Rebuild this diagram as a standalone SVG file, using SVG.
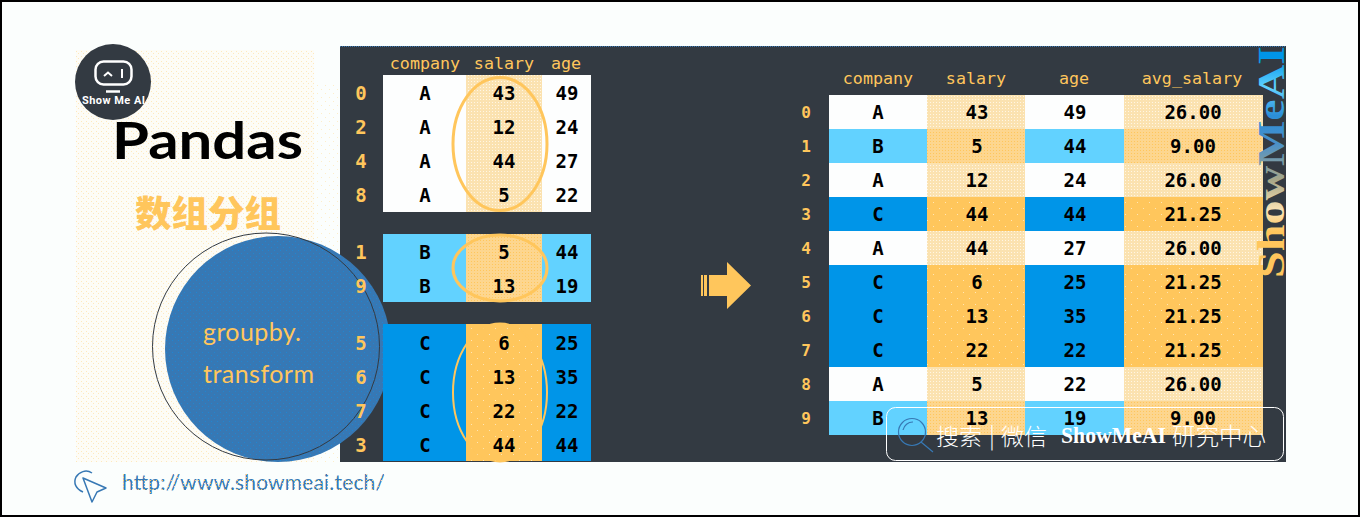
<svg xmlns="http://www.w3.org/2000/svg" width="1361" height="518" viewBox="0 0 1361 518">
<style>
text{font-family:"DejaVu Sans Mono","Liberation Mono",monospace}
.h{font-size:16.7px;fill:#ffc65c;text-anchor:middle}
.i{font-size:19px;fill:#ffc65c;text-anchor:middle;font-weight:700}
.j{font-size:16px;fill:#ffc65c;text-anchor:middle;font-weight:700}
.c{font-size:19px;fill:#000;text-anchor:middle;font-weight:700}
.ring{fill:none;stroke:#ffc65c}
.cjk{font-family:"Noto Sans CJK SC",sans-serif;fill:#fff}
.lato{font-family:Lato,"Open Sans",sans-serif}
.A{fill:#fdfefe}.B{fill:#62d2ff}.C{fill:#0095e8}
.SA{fill:url(#pa)}.SB{fill:url(#pb)}.SC{fill:url(#pc)}
</style>
<defs>
<pattern id="bg" width="5" height="5" patternUnits="userSpaceOnUse"><rect width="5" height="5" fill="#fdfcf6"/><rect x="1" y="1" width="1" height="1" fill="#fde9bd"/><rect x="3" y="3" width="1" height="1" fill="#fde9bd"/></pattern>
<pattern id="bg2" width="8" height="8" patternUnits="userSpaceOnUse"><rect x="1" y="1" width="1" height="1" fill="#fdeecb"/><rect x="5" y="5" width="1" height="1" fill="#fdeecb"/></pattern>
<pattern id="pa" width="3" height="3" patternUnits="userSpaceOnUse"><rect width="3" height="3" fill="#fbe2b0"/><rect width="1" height="1" fill="#fff6e4"/></pattern>
<pattern id="pb" width="3" height="3" patternUnits="userSpaceOnUse"><rect width="3" height="3" fill="#fdd68f"/><rect width="1" height="1" fill="#ffc65c"/></pattern>
<pattern id="pc" width="12" height="12" patternUnits="userSpaceOnUse"><rect width="12" height="12" fill="#ffc65c"/><rect x="3" y="4" width="1" height="1" fill="#ffe6b5"/><rect x="9" y="10" width="1" height="1" fill="#ffe6b5"/></pattern>
<pattern id="disc" width="6" height="6" patternUnits="userSpaceOnUse"><rect width="6" height="6" fill="#3778b4"/><rect x="1" y="1" width="1" height="1" fill="#1f86d2"/><rect x="4" y="4" width="1" height="1" fill="#1f86d2"/></pattern>
<pattern id="url" width="3" height="3" patternUnits="userSpaceOnUse"><rect width="3" height="3" fill="#3778b4"/><rect width="1" height="1" fill="#ffc65c"/></pattern>
<linearGradient id="wm" gradientUnits="userSpaceOnUse" x1="0" y1="0" x2="232" y2="0"><stop offset="0" stop-color="#ffc65c"/><stop offset=".2" stop-color="#ffc65c"/><stop offset=".29" stop-color="#fbe3b5"/><stop offset=".42" stop-color="#a9a888"/><stop offset=".58" stop-color="#4a90c8"/><stop offset=".7" stop-color="#2b8ed8"/><stop offset=".82" stop-color="#62d2ff"/><stop offset=".95" stop-color="#0095e8"/></linearGradient>
</defs>
<rect x="1" y="1" width="1358" height="515" fill="#fbfefd" stroke="#000" stroke-width="2"/>
<rect x="76" y="50" width="238" height="412" fill="url(#bg)"/>
<rect x="314" y="82" width="26" height="380" fill="url(#bg2)"/>
<g id="panel"><rect x="340" y="46" width="946" height="416" fill="#333a42"/><line x1="340" y1="46.5" x2="1286" y2="46.5" stroke="#3778b4" stroke-dasharray="1 1"/></g>
<g id="logo"><circle cx="113" cy="82" r="38" fill="#333a42"/><rect x="95.5" y="61.5" width="36" height="23" rx="8" fill="none" stroke="#fff" stroke-width="2.5"/><path d="M104 76l4-3.500l4 3.500" fill="none" stroke="#fff" stroke-width="2"/><path d="M122 69v9" stroke="#fff" stroke-width="2"/><path d="M106 91.500h14" stroke="#fff" stroke-width="2.500"/><text x="82" y="104" font-size="11" font-weight="700" fill="#fff" textLength="63" style="font-family:Roboto,sans-serif">Show Me AI</text></g>
<g id="title"><text class="lato" x="112" y="159" font-size="51" font-weight="700" fill="#000" textLength="191" lengthAdjust="spacingAndGlyphs">Pandas</text><text class="cjk" x="135" y="227" font-size="36.500" font-weight="900" style="fill:#ffc65c">数组分组</text></g>
<g id="disc"><circle cx="278" cy="349" r="113" fill="url(#disc)"/><circle cx="266" cy="346.500" r="113.500" fill="none" stroke="#333a42"/><text class="lato" x="203" y="341" font-size="25" fill="#ffc65c" textLength="98">groupby.</text><text class="lato" x="203" y="383" font-size="25" fill="#ffc65c" textLength="111">transform</text></g>
<g id="left-table">
<rect class="A" x="383" y="75" width="208" height="137"/><rect class="SA" x="466" y="75" width="76" height="137"/>
<rect class="B" x="383" y="234" width="208" height="68"/><rect class="SB" x="466" y="234" width="76" height="68"/>
<rect class="C" x="383" y="324" width="208" height="137"/><rect class="SC" x="466" y="324" width="76" height="137"/>
<ellipse class="ring" cx="500" cy="144" rx="47" ry="66.500" stroke-width="3"/>
<ellipse class="ring" cx="500" cy="268" rx="47" ry="33" stroke-width="3"/>
<ellipse class="ring" cx="500" cy="392.500" rx="47" ry="69" stroke-width="2"/>
<text class="h" x="425" y="69">company</text><text class="h" x="504" y="69">salary</text><text class="h" x="566" y="69">age</text>
<text class="i" x="361" y="100">0</text><text class="c" x="425" y="100">A</text><text class="c" x="504" y="100">43</text><text class="c" x="567" y="100">49</text>
<text class="i" x="361" y="134">2</text><text class="c" x="425" y="134">A</text><text class="c" x="504" y="134">12</text><text class="c" x="567" y="134">24</text>
<text class="i" x="361" y="168">4</text><text class="c" x="425" y="168">A</text><text class="c" x="504" y="168">44</text><text class="c" x="567" y="168">27</text>
<text class="i" x="361" y="202">8</text><text class="c" x="425" y="202">A</text><text class="c" x="504" y="202">5</text><text class="c" x="567" y="202">22</text>
<text class="i" x="361" y="259">1</text><text class="c" x="425" y="259">B</text><text class="c" x="504" y="259">5</text><text class="c" x="567" y="259">44</text>
<text class="i" x="361" y="293">9</text><text class="c" x="425" y="293">B</text><text class="c" x="504" y="293">13</text><text class="c" x="567" y="293">19</text>
<text class="i" x="361" y="350">5</text><text class="c" x="425" y="350">C</text><text class="c" x="504" y="350">6</text><text class="c" x="567" y="350">25</text>
<text class="i" x="361" y="384">6</text><text class="c" x="425" y="384">C</text><text class="c" x="504" y="384">13</text><text class="c" x="567" y="384">35</text>
<text class="i" x="361" y="418">7</text><text class="c" x="425" y="418">C</text><text class="c" x="504" y="418">22</text><text class="c" x="567" y="418">22</text>
<text class="i" x="361" y="452">3</text><text class="c" x="425" y="452">C</text><text class="c" x="504" y="452">44</text><text class="c" x="567" y="452">44</text>
</g>
<g id="connectors"><g id="arrow" fill="#ffc65c"><rect x="701" y="275" width="2" height="21"/><rect x="704" y="275" width="3" height="21"/><path d="M709 275h18v-13l24 23.500l-24 23.500v-13h-18z"/></g></g>
<g id="right-table">
<rect class="A" x="829" y="95" width="98" height="34"/><rect class="SA" x="927" y="95" width="98" height="34"/><rect class="A" x="1025" y="95" width="99" height="34"/><rect class="SA" x="1124" y="95" width="139" height="34"/>
<rect class="B" x="829" y="129" width="98" height="34"/><rect class="SB" x="927" y="129" width="98" height="34"/><rect class="B" x="1025" y="129" width="99" height="34"/><rect class="SB" x="1124" y="129" width="139" height="34"/>
<rect class="A" x="829" y="163" width="98" height="34"/><rect class="SA" x="927" y="163" width="98" height="34"/><rect class="A" x="1025" y="163" width="99" height="34"/><rect class="SA" x="1124" y="163" width="139" height="34"/>
<rect class="C" x="829" y="197" width="98" height="34"/><rect class="SC" x="927" y="197" width="98" height="34"/><rect class="C" x="1025" y="197" width="99" height="34"/><rect class="SC" x="1124" y="197" width="139" height="34"/>
<rect class="A" x="829" y="231" width="98" height="34"/><rect class="SA" x="927" y="231" width="98" height="34"/><rect class="A" x="1025" y="231" width="99" height="34"/><rect class="SA" x="1124" y="231" width="139" height="34"/>
<rect class="C" x="829" y="265" width="98" height="102" /><rect class="SC" x="927" y="265" width="98" height="102"/><rect class="C" x="1025" y="265" width="99" height="102"/><rect class="SC" x="1124" y="265" width="139" height="102"/>
<rect class="A" x="829" y="367" width="98" height="34"/><rect class="SA" x="927" y="367" width="98" height="34"/><rect class="A" x="1025" y="367" width="99" height="34"/><rect class="SA" x="1124" y="367" width="139" height="34"/>
<rect class="B" x="829" y="401" width="98" height="34"/><rect class="SB" x="927" y="401" width="98" height="34"/><rect class="B" x="1025" y="401" width="99" height="34"/><rect class="SB" x="1124" y="401" width="139" height="34"/>
<text class="h" x="878" y="84">company</text><text class="h" x="976" y="84">salary</text><text class="h" x="1074" y="84">age</text><text class="h" x="1192" y="84">avg_salary</text>
<text class="j" x="806" y="118">0</text><text class="c" x="878" y="119">A</text><text class="c" x="977" y="119">43</text><text class="c" x="1075" y="119">49</text><text class="c" x="1193" y="119">26.00</text>
<text class="j" x="806" y="152">1</text><text class="c" x="878" y="153">B</text><text class="c" x="977" y="153">5</text><text class="c" x="1075" y="153">44</text><text class="c" x="1193" y="153">9.00</text>
<text class="j" x="806" y="186">2</text><text class="c" x="878" y="187">A</text><text class="c" x="977" y="187">12</text><text class="c" x="1075" y="187">24</text><text class="c" x="1193" y="187">26.00</text>
<text class="j" x="806" y="220">3</text><text class="c" x="878" y="221">C</text><text class="c" x="977" y="221">44</text><text class="c" x="1075" y="221">44</text><text class="c" x="1193" y="221">21.25</text>
<text class="j" x="806" y="254">4</text><text class="c" x="878" y="255">A</text><text class="c" x="977" y="255">44</text><text class="c" x="1075" y="255">27</text><text class="c" x="1193" y="255">26.00</text>
<text class="j" x="806" y="288">5</text><text class="c" x="878" y="289">C</text><text class="c" x="977" y="289">6</text><text class="c" x="1075" y="289">25</text><text class="c" x="1193" y="289">21.25</text>
<text class="j" x="806" y="322">6</text><text class="c" x="878" y="323">C</text><text class="c" x="977" y="323">13</text><text class="c" x="1075" y="323">35</text><text class="c" x="1193" y="323">21.25</text>
<text class="j" x="806" y="356">7</text><text class="c" x="878" y="357">C</text><text class="c" x="977" y="357">22</text><text class="c" x="1075" y="357">22</text><text class="c" x="1193" y="357">21.25</text>
<text class="j" x="806" y="390">8</text><text class="c" x="878" y="391">A</text><text class="c" x="977" y="391">5</text><text class="c" x="1075" y="391">22</text><text class="c" x="1193" y="391">26.00</text>
<text class="j" x="806" y="424">9</text><text class="c" x="878" y="425">B</text><text class="c" x="977" y="425">13</text><text class="c" x="1075" y="425">19</text><text class="c" x="1193" y="425">9.00</text>
</g>
<g id="watermark"><text transform="translate(1284 278) rotate(-90)" font-size="38" font-weight="700" fill="url(#wm)" textLength="232" lengthAdjust="spacingAndGlyphs" style="font-family:'Liberation Serif',serif">ShowMeAI</text></g>
<g id="search"><rect x="886.500" y="407.500" width="397" height="53" rx="9" fill="none" stroke="#fff"/><circle cx="912" cy="432" r="13.500" fill="none" stroke="#3778b4" stroke-width="1.200"/><path d="M903 430a10 10 0 0 1 10-8M921 442l12 10" fill="none" stroke="#3778b4" stroke-width="1.200"/>
<text class="cjk" x="936" y="445" font-size="23" font-weight="300">搜索</text><text class="cjk" x="989" y="444" font-size="23" font-weight="300">|</text><text class="cjk" x="1001" y="445" font-size="23" font-weight="300">微信</text><text x="1061" y="443" font-size="24" font-weight="700" fill="#fff" textLength="105" lengthAdjust="spacingAndGlyphs" style="font-family:'Liberation Serif',serif">ShowMeAI</text><text class="cjk" x="1172" y="445" font-size="23.500" font-weight="300">研究中心</text></g>
<g id="link"><path d="M92 473C86 469 79 472 76 477C73 483 76 489 83 492" fill="none" stroke="#3778b4" stroke-width="1.500"/><path d="M83 478L106 488L97 492L92 502Z" fill="none" stroke="#3778b4" stroke-width="1.500" stroke-linejoin="round"/><text class="lato" x="122" y="490" font-size="21" fill="url(#url)" textLength="263">http://www.showmeai.tech/</text></g>
</svg>
